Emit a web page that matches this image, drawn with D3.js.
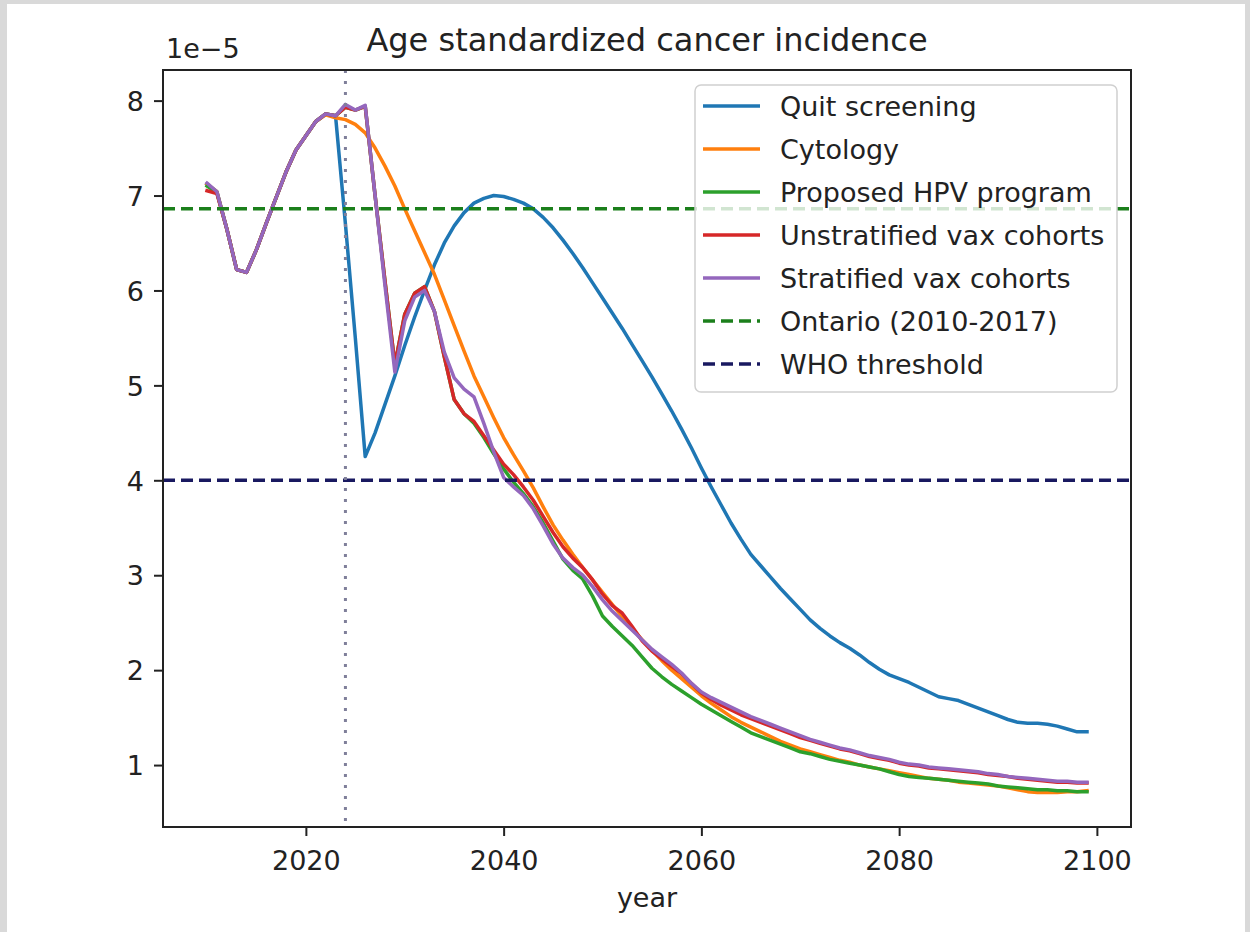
<!DOCTYPE html>
<html>
<head>
<meta charset="utf-8">
<script src="https://cdn.jsdelivr.net/npm/d3@7"></script>
<style>
  html, body { margin: 0; padding: 0; background: #ffffff; }
  svg { display: block; }
  text { font-family: "DejaVu Sans", sans-serif; fill: #222; }
</style>
</head>
<body>
<svg id="chart" width="1250" height="932"></svg>
<script>
// ---- data (incidence per person-year, in units of 1e-5) ----
const firstYear = 2010;
const lastYear = 2099;

const quitScreening = [
  7.12, 7.04, 6.65, 6.22, 6.19, 6.43, 6.71, 6.98, 7.25, 7.48,
  7.63, 7.78, 7.86, 7.84, 6.70, 5.50, 4.25, 4.50, 4.80, 5.10,
  5.42, 5.72, 6.00, 6.27, 6.50, 6.68, 6.82, 6.92, 6.97, 7.00,
  6.99, 6.96, 6.92, 6.86, 6.77, 6.66, 6.53, 6.39, 6.24, 6.08,
  5.92, 5.76, 5.60, 5.43, 5.26, 5.09, 4.91, 4.73, 4.54, 4.34,
  4.13, 3.93, 3.74, 3.55, 3.38, 3.22, 3.10, 2.98, 2.86, 2.75,
  2.64, 2.53, 2.44, 2.36, 2.29, 2.23, 2.16, 2.08, 2.01, 1.95,
  1.91, 1.87, 1.82, 1.77, 1.72, 1.70, 1.68, 1.64, 1.60, 1.56,
  1.52, 1.48, 1.45, 1.44, 1.44, 1.43, 1.41, 1.38, 1.35, 1.35
];

const cytology = [
  7.12, 7.04, 6.65, 6.22, 6.19, 6.43, 6.71, 6.98, 7.25, 7.48,
  7.63, 7.78, 7.85, 7.82, 7.80, 7.75, 7.66, 7.50, 7.31, 7.10,
  6.86, 6.63, 6.40, 6.17, 5.90, 5.63, 5.36, 5.10, 4.88, 4.66,
  4.45, 4.27, 4.10, 3.92, 3.72, 3.53, 3.37, 3.22, 3.08, 2.95,
  2.82, 2.69, 2.56, 2.44, 2.32, 2.21, 2.10, 2.00, 1.91, 1.82,
  1.73, 1.65, 1.58, 1.51, 1.45, 1.40, 1.35, 1.30, 1.25, 1.21,
  1.17, 1.14, 1.11, 1.08, 1.05, 1.03, 1.00, 0.98, 0.96, 0.94,
  0.92, 0.90, 0.88, 0.86, 0.85, 0.84, 0.82, 0.81, 0.80, 0.79,
  0.78, 0.76, 0.74, 0.72, 0.71, 0.71, 0.71, 0.72, 0.72, 0.73
];

const proposedHPV = [
  7.10, 7.03, 6.65, 6.22, 6.19, 6.43, 6.71, 6.98, 7.25, 7.48,
  7.63, 7.78, 7.86, 7.84, 7.93, 7.90, 7.94, 7.00, 6.10, 5.22,
  5.75, 5.97, 6.04, 5.78, 5.30, 4.85, 4.70, 4.60, 4.45, 4.28,
  4.12, 3.98, 3.86, 3.72, 3.55, 3.36, 3.17, 3.05, 2.96, 2.78,
  2.57, 2.46, 2.36, 2.26, 2.14, 2.02, 1.93, 1.85, 1.78, 1.71,
  1.64, 1.58, 1.52, 1.46, 1.40, 1.34, 1.30, 1.26, 1.22, 1.18,
  1.14, 1.12, 1.09, 1.06, 1.04, 1.02, 1.00, 0.98, 0.96, 0.93,
  0.90, 0.88, 0.87, 0.86, 0.85, 0.84, 0.83, 0.82, 0.81, 0.80,
  0.78, 0.77, 0.76, 0.75, 0.74, 0.74, 0.73, 0.73, 0.72, 0.72
];

const unstratifiedVax = [
  7.05, 7.02, 6.65, 6.22, 6.19, 6.43, 6.71, 6.98, 7.25, 7.48,
  7.63, 7.78, 7.86, 7.84, 7.93, 7.90, 7.94, 7.00, 6.10, 5.22,
  5.75, 5.97, 6.04, 5.78, 5.30, 4.85, 4.70, 4.62, 4.47, 4.32,
  4.17, 4.06, 3.93, 3.79, 3.62, 3.45, 3.30, 3.18, 3.08, 2.95,
  2.80, 2.68, 2.60, 2.46, 2.31, 2.20, 2.12, 2.04, 1.96, 1.86,
  1.76, 1.69, 1.63, 1.58, 1.53, 1.49, 1.45, 1.41, 1.37, 1.33,
  1.29, 1.26, 1.23, 1.20, 1.17, 1.15, 1.12, 1.09, 1.07, 1.05,
  1.02, 1.00, 0.99, 0.97, 0.96, 0.95, 0.94, 0.93, 0.92, 0.90,
  0.89, 0.88, 0.86, 0.85, 0.84, 0.83, 0.82, 0.82, 0.81, 0.81
];

const stratifiedVax = [
  7.13, 7.04, 6.65, 6.22, 6.19, 6.43, 6.71, 6.98, 7.25, 7.48,
  7.63, 7.78, 7.86, 7.84, 7.96, 7.90, 7.95, 7.00, 6.05, 5.14,
  5.68, 5.93, 6.00, 5.78, 5.35, 5.08, 4.96, 4.88, 4.60, 4.30,
  4.03, 3.93, 3.84, 3.70, 3.52, 3.33, 3.18, 3.08, 3.00, 2.88,
  2.74, 2.62, 2.52, 2.42, 2.32, 2.22, 2.14, 2.06, 1.97, 1.86,
  1.77, 1.71, 1.66, 1.61, 1.56, 1.51, 1.47, 1.43, 1.39, 1.35,
  1.31, 1.27, 1.24, 1.21, 1.18, 1.16, 1.13, 1.10, 1.08, 1.06,
  1.03, 1.01, 1.00, 0.98, 0.97, 0.96, 0.95, 0.94, 0.93, 0.91,
  0.90, 0.88, 0.87, 0.86, 0.85, 0.84, 0.83, 0.83, 0.82, 0.82
];

const ontarioRate = 6.86;     // Ontario 2010-2017 average
const whoThreshold = 4.0;     // WHO elimination threshold
const programStartYear = 2024;

const xTickValues = [2020, 2040, 2060, 2080, 2100];
const yTickValues = [1, 2, 3, 4, 5, 6, 7, 8];

const seriesNames = ["Quit screening", "Cytology", "Proposed HPV program",
                     "Unstratified vax cohorts", "Stratified vax cohorts"];
const refNames = ["Ontario (2010-2017)", "WHO threshold"];

// ---- layout ----
const W = 1250, H = 932;
const plot = { left: 163, top: 70, right: 1131, bottom: 827 };
const colors = ["#1f77b4", "#ff7f0e", "#2ca02c", "#d62728", "#9467bd"];
const ontarioColor = "#1b7f1b";
const whoColor = "#191960";
const lineWidth = 3.5;

const svg = d3.select("#chart");

// page background with thin grey frame
svg.append("rect").attr("x", 0).attr("y", 0).attr("width", W).attr("height", H).attr("fill", "#d9d9d9");
svg.append("rect").attr("x", 7).attr("y", 4).attr("width", W - 7 - 5).attr("height", H - 4).attr("fill", "#ffffff");

const years = d3.range(firstYear, lastYear + 1);
const allSeries = [quitScreening, cytology, proposedHPV, unstratifiedVax, stratifiedVax];

// autoscale with 5% margins on both axes
const xPad = (lastYear - firstYear) * 0.05;
const x = d3.scaleLinear()
  .domain([firstYear - xPad, lastYear + xPad])
  .range([plot.left, plot.right]);

const yMin = d3.min(allSeries, s => d3.min(s));
const yMax = d3.max(allSeries, s => d3.max(s));
const yPad = (yMax - yMin) * 0.05;
const y = d3.scaleLinear()
  .domain([yMin - yPad, yMax + yPad])
  .range([plot.bottom, plot.top]);

svg.append("clipPath").attr("id", "plotclip")
  .append("rect")
  .attr("x", plot.left).attr("y", plot.top)
  .attr("width", plot.right - plot.left).attr("height", plot.bottom - plot.top);

const g = svg.append("g").attr("clip-path", "url(#plotclip)");

const line = d3.line()
  .x((d, i) => x(years[i]))
  .y(d => y(d));

allSeries.forEach((s, k) => {
  g.append("path")
    .datum(s)
    .attr("d", line)
    .attr("fill", "none")
    .attr("stroke", colors[k])
    .attr("stroke-width", lineWidth)
    .attr("stroke-linejoin", "round")
    .attr("stroke-linecap", "square");
});

// reference lines
g.append("line")
  .attr("x1", plot.left).attr("x2", plot.right)
  .attr("y1", y(ontarioRate)).attr("y2", y(ontarioRate))
  .attr("stroke", ontarioColor).attr("stroke-width", lineWidth)
  .attr("stroke-dasharray", "12,6");

g.append("line")
  .attr("x1", plot.left).attr("x2", plot.right)
  .attr("y1", y(whoThreshold)).attr("y2", y(whoThreshold))
  .attr("stroke", whoColor).attr("stroke-width", lineWidth)
  .attr("stroke-dasharray", "12,6");

// program start marker
g.append("line")
  .attr("x1", x(programStartYear)).attr("x2", x(programStartYear))
  .attr("y1", plot.top).attr("y2", plot.bottom)
  .attr("stroke", "#7f7f9a").attr("stroke-width", 3)
  .attr("stroke-dasharray", "3,8");

// axes
const xAxis = d3.axisBottom(x).tickValues(xTickValues).tickSize(9).tickFormat(d3.format("d"));
const xg = svg.append("g").attr("transform", `translate(0,${plot.bottom})`).call(xAxis);
xg.select(".domain").remove();
xg.selectAll(".tick line").attr("stroke", "#222").attr("stroke-width", 2);
xg.selectAll(".tick text")
  .attr("y", 43).attr("dy", null)
  .style("font-size", "27px").style("font-family", "DejaVu Sans").attr("fill", "#222");

const yAxis = d3.axisLeft(y).tickValues(yTickValues).tickSize(9).tickPadding(10).tickFormat(d3.format("d"));
const yg = svg.append("g").attr("transform", `translate(${plot.left},0)`).call(yAxis);
yg.select(".domain").remove();
yg.selectAll(".tick line").attr("stroke", "#222").attr("stroke-width", 2);
yg.selectAll(".tick text")
  .attr("dy", "0.36em")
  .style("font-size", "27px").style("font-family", "DejaVu Sans").attr("fill", "#222");

// frame
svg.append("rect")
  .attr("x", plot.left).attr("y", plot.top)
  .attr("width", plot.right - plot.left).attr("height", plot.bottom - plot.top)
  .attr("fill", "none").attr("stroke", "#222").attr("stroke-width", 2);

// scale multiplier, title, axis label
svg.append("text").attr("x", 166).attr("y", 58)
  .style("font-size", "27px").text("1e\u22125");

svg.append("text").attr("x", (plot.left + plot.right) / 2).attr("y", 51)
  .attr("text-anchor", "middle").style("font-size", "32px")
  .text("Age standardized cancer incidence");

svg.append("text").attr("x", (plot.left + plot.right) / 2).attr("y", 907)
  .attr("text-anchor", "middle").style("font-size", "27px")
  .text("year");

// legend
const legend = svg.append("g");
legend.append("rect")
  .attr("x", 695).attr("y", 85).attr("width", 422).attr("height", 307)
  .attr("rx", 6).attr("ry", 6)
  .attr("fill", "#ffffff").attr("fill-opacity", 0.8)
  .attr("stroke", "#d0d0d0").attr("stroke-width", 1.5);

const legendItems = seriesNames.map((n, k) => ({ name: n, color: colors[k], dash: null }))
  .concat([
    { name: refNames[0], color: ontarioColor, dash: "12,6" },
    { name: refNames[1], color: whoColor, dash: "12,6" }
  ]);

legendItems.forEach((it, i) => {
  const cy = 106 + i * 43;
  legend.append("line")
    .attr("x1", 703).attr("x2", 760)
    .attr("y1", cy).attr("y2", cy)
    .attr("stroke", it.color).attr("stroke-width", lineWidth)
    .attr("stroke-dasharray", it.dash);
  legend.append("text")
    .attr("x", 780).attr("y", cy + 10)
    .style("font-size", "27px")
    .text(it.name);
});
</script>
</body>
</html>
